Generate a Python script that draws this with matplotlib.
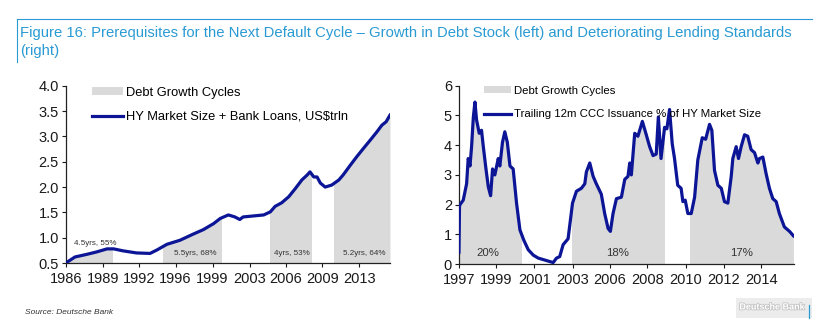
import matplotlib
matplotlib.use("Agg")
import matplotlib.patheffects as pe
import matplotlib.pyplot as plt
from matplotlib.patches import Rectangle

# ---- data -------------------------------------------------------------
left_years = [1986.0, 1986.85, 1987.9, 1988.85, 1989.8, 1990.4, 1991.3, 1992.5,
              1993.75, 1994.4, 1995.3, 1996.5, 1997.7, 1998.65, 1999.6, 2000.2,
              2000.95, 2001.55, 2002.0, 2002.3, 2003.25, 2004.2, 2004.8, 2005.25,
              2005.85, 2006.5, 2007.1, 2007.7, 2008.2, 2008.45, 2008.8, 2009.1,
              2009.4, 2009.85, 2010.45, 2011.1, 2011.5, 2012.15, 2012.75, 2013.35,
              2014.0, 2014.6, 2015.05, 2015.45, 2015.8]
left_values = [0.50, 0.62, 0.67, 0.72, 0.78, 0.78, 0.74, 0.70, 0.69, 0.76, 0.87,
               0.95, 1.07, 1.16, 1.28, 1.38, 1.45, 1.41, 1.36, 1.41, 1.43, 1.45,
               1.51, 1.62, 1.69, 1.81, 1.97, 2.14, 2.24, 2.30, 2.20, 2.20, 2.08,
               2.00, 2.04, 2.14, 2.24, 2.43, 2.60, 2.76, 2.93, 3.09, 3.22, 3.29, 3.42]
left_cycles = [(1986.0, 1990.3), (1994.9, 2000.3), (2004.8, 2008.5), (2010.7, 2015.8)]
left_cycle_labels = ["4.5yrs, 55%", "5.5yrs, 68%", "4yrs, 53%", "5.2yrs, 64%"]
left_label_pos = [(1988.7, 0.89), (1997.9, 0.69), (2006.8, 0.69), (2013.4, 0.69)]
left_ticks = [1986.0, 1989.4, 1992.75, 1996.1, 1999.5, 2002.9, 2006.25, 2009.6, 2013.0]
left_tick_labels = ["1986", "1989", "1992", "1996", "1999", "2003", "2006", "2009", "2013"]

right_years = [1997.0, 1997.03, 1997.06, 1997.24, 1997.43, 1997.52, 1997.62, 1997.71,
               1997.81, 1997.90, 1997.99, 1998.14, 1998.27, 1998.37, 1998.52, 1998.65,
               1998.78, 1998.89, 1999.02, 1999.21, 1999.30, 1999.45, 1999.58, 1999.72,
               1999.87, 2000.05, 2000.24, 2000.43, 2000.65, 2000.90, 2001.18, 2001.46,
               2001.74, 2002.02, 2002.30, 2002.49, 2002.67, 2002.86, 2003.14, 2003.39,
               2003.61, 2003.89, 2004.08, 2004.17, 2004.36, 2004.55, 2004.73, 2005.01,
               2005.20, 2005.39, 2005.52, 2005.67, 2005.86, 2006.14, 2006.33, 2006.51,
               2006.61, 2006.70, 2006.89, 2007.07, 2007.32, 2007.54, 2007.73, 2007.92,
               2008.10, 2008.22, 2008.37, 2008.57, 2008.70, 2008.85, 2009.00, 2009.13,
               2009.31, 2009.50, 2009.60, 2009.73, 2009.88, 2010.07, 2010.26, 2010.44,
               2010.69, 2010.88, 2011.10, 2011.23, 2011.38, 2011.57, 2011.76, 2011.94,
               2012.13, 2012.32, 2012.41, 2012.60, 2012.73, 2012.88, 2013.07, 2013.25,
               2013.44, 2013.63, 2013.82, 2013.91, 2014.10, 2014.28, 2014.47, 2014.66,
               2014.85, 2015.03, 2015.31, 2015.60, 2015.82]
right_values = [0.4, 1.95, 2.0, 2.15, 2.7, 3.55, 3.3, 3.95, 4.95, 5.45, 4.85, 4.4, 4.5,
                3.95, 3.2, 2.6, 2.3, 3.2, 3.0, 3.55, 3.3, 4.1, 4.45, 4.1, 3.3, 3.2,
                2.05, 1.15, 0.8, 0.48, 0.3, 0.2, 0.15, 0.1, 0.05, 0.2, 0.25, 0.65,
                0.85, 2.05, 2.45, 2.55, 2.7, 3.1, 3.4, 2.95, 2.7, 2.35, 1.7, 1.2, 1.1,
                1.7, 2.2, 2.25, 2.85, 2.95, 3.4, 3.0, 4.4, 4.3, 4.8, 4.35, 3.95, 3.65,
                3.7, 4.95, 3.55, 4.6, 4.55, 5.2, 4.05, 3.55, 2.65, 2.55, 2.1, 2.15,
                1.7, 1.7, 2.25, 3.5, 4.25, 4.2, 4.7, 4.5, 3.15, 2.65, 2.55, 2.1, 2.05,
                2.95, 3.55, 3.95, 3.55, 3.95, 4.35, 4.3, 3.85, 3.75, 3.4, 3.55, 3.6,
                3.05, 2.55, 2.2, 2.1, 1.7, 1.25, 1.1, 0.95]
right_cycles = [(1997.0, 2000.5), (2003.38, 2008.52), (2010.02, 2015.82)]
right_cycle_labels = ["20%", "18%", "17%"]
right_label_pos = [(1998.63, 0.38), (2005.9, 0.38), (2012.9, 0.38)]
right_ticks = [1997.0, 1999.1, 2001.25, 2003.4, 2005.5, 2007.6, 2009.75, 2011.9, 2014.0]
right_tick_labels = ["1997", "1999", "2001", "2003", "2006", "2008", "2010", "2012", "2014"]

TITLE = ("Figure 16: Prerequisites for the Next Default Cycle \u2013 Growth in Debt Stock "
         "(left) and Deteriorating Lending Standards\n(right)")

# ---- style ------------------------------------------------------------
LINE = "#0b1596"
SHADE = "#dadada"
TITLE_BLUE = "#2a9ad3"
TEXT = "#1a1a1a"

plt.rcParams["font.family"] = ["Liberation Sans", "DejaVu Sans"]


def draw_panel(ax, xs, ys, cycles, labels, label_pos, label_size,
               ticks, tick_labels, xlim, ylim, yticks, yfmt, line_label,
               leg_size, leg_x, leg_y, leg_spacing):
    ax.set_xlim(*xlim)
    ax.set_ylim(*ylim)
    for x0, x1 in cycles:
        poly = ax.fill_between(xs, ys, ylim[0], color=SHADE, lw=0, zorder=1)
        clip = Rectangle((x0, ylim[0]), x1 - x0, ylim[1] - ylim[0], transform=ax.transData)
        poly.set_clip_path(clip)
    for txt, (lx, ly) in zip(labels, label_pos):
        ax.text(lx, ly, txt, ha="center", va="center", fontsize=label_size,
                color="#333333", zorder=3)
    ax.plot(xs, ys, color=LINE, lw=2.3, zorder=4, solid_joinstyle="round")

    shade_h = Rectangle((0, 0), 1, 1, facecolor=SHADE, edgecolor="none")
    line_h = plt.Line2D([], [], color=LINE, lw=2.3)
    ax.legend([shade_h, line_h], ["Debt Growth Cycles", line_label],
              loc="upper left", bbox_to_anchor=(leg_x, leg_y), frameon=False,
              fontsize=leg_size, handlelength=2.4, handleheight=0.55,
              handletextpad=0.25, labelspacing=leg_spacing, borderpad=0,
              borderaxespad=0)

    ax.set_xticks(ticks)
    ax.set_xticklabels(tick_labels)
    ax.set_yticks(yticks)
    ax.set_yticklabels([yfmt.format(v) for v in yticks])
    ax.tick_params(axis="both", labelsize=10.5, colors=TEXT, length=3, width=0.8, pad=2)
    ax.tick_params(axis="x", pad=3.5)
    for side in ("top", "right"):
        ax.spines[side].set_visible(False)
    for side in ("left", "bottom"):
        ax.spines[side].set_color("#222222")
        ax.spines[side].set_linewidth(0.9)


fig = plt.figure(figsize=(8.36, 3.28), dpi=100, facecolor="white")

ax_l = fig.add_axes([0.0786, 0.198, 0.3885, 0.5405])
draw_panel(ax_l, left_years, left_values, left_cycles, left_cycle_labels,
           left_label_pos, 5.8, left_ticks, left_tick_labels,
           (1986.0, 2015.85), (0.5, 4.0), [0.5, 1.0, 1.5, 2.0, 2.5, 3.0, 3.5, 4.0],
           "{:.1f}", "HY Market Size + Bank Loans, US$trln", 9.3, 0.08, 0.995, 0.95)

ax_r = fig.add_axes([0.549, 0.195, 0.4007, 0.5436])
draw_panel(ax_r, right_years, right_values, right_cycles, right_cycle_labels,
           right_label_pos, 8.2, right_ticks, right_tick_labels,
           (1997.0, 2015.85), (0, 6), [0, 1, 2, 3, 4, 5, 6],
           "{:.0f}", "Trailing 12m CCC Issuance % of HY Market Size", 8.2, 0.075,
           1.0, 1.2)

# title box lines
fig.add_artist(plt.Line2D([17 / 836, 812 / 836], [1 - 19 / 328, 1 - 19 / 328],
                          color=TITLE_BLUE, lw=0.8))
fig.add_artist(plt.Line2D([17 / 836, 17 / 836], [1 - 19 / 328, 1 - 62 / 328],
                          color=TITLE_BLUE, lw=0.8))
fig.text(20 / 836, 1 - 26 / 328, TITLE, ha="left", va="top", color=TITLE_BLUE,
         fontsize=10.7, linespacing=1.32)

fig.text(25 / 836, 1 - 312 / 328, "Source: Deutsche Bank", ha="left", va="center",
         fontsize=6, style="italic", color="#333333")

# faint watermark, bottom right
fig.add_artist(Rectangle((736 / 836, 1 - 318 / 328), 76 / 836, 20 / 328,
                         transform=fig.transFigure, facecolor="#ececec", edgecolor="none"))
wm = fig.text(772 / 836, 1 - 307 / 328, "Deutsche Bank", ha="center", va="center",
              fontsize=6.5, color="white", weight="bold")
wm.set_path_effects([pe.withStroke(linewidth=1.2, foreground="#c4c4c4")])
fig.add_artist(plt.Line2D([809 / 836, 809 / 836], [1 - 305 / 328, 1 - 318 / 328],
                          color=TITLE_BLUE, lw=0.9))

fig.savefig("out.png", dpi=100, facecolor="white")
